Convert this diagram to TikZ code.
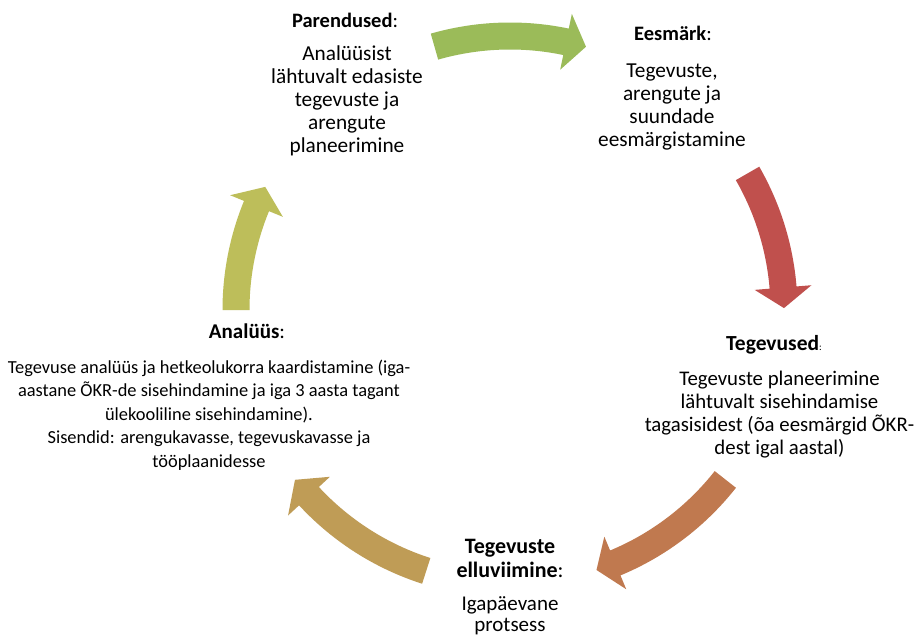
\documentclass[tikz,border=0pt]{standalone}
\usepackage{fontspec}
\setmainfont{Carlito}
\definecolor{cA}{RGB}{155,187,89}
\definecolor{cB}{RGB}{192,80,77}
\definecolor{cC}{RGB}{192,121,79}
\definecolor{cD}{RGB}{191,156,86}
\definecolor{cE}{RGB}{189,190,90}
\newcommand\cycarrow[4]{%
  \fill[#4] ({#1}:287.5) arc[start angle={#1}, end angle={#2}, radius=287.5]
    -- ({#2}:302.5) -- ({#3}:274) -- ({#2}:245.5) -- ({#2}:260.5)
    arc[start angle={#2}, end angle={#1}, radius=260.5] -- cycle;}
\begin{document}
\begin{tikzpicture}[x=1pt,y=-1pt,
  head/.style={font=\fontsize{20.5}{23}\selectfont, align=center, inner sep=0pt, anchor=north},
  body/.style={font=\fontsize{21.3}{23}\selectfont, align=center, inner sep=0pt, anchor=north}]
\useasboundingbox[fill=white] (0,0) rectangle (915,639);
% arrows
\begin{scope}[shift={(510,310)}, yscale=-1]
  \cycarrow{106}{78.2}{73.9}{cA}
  \cycarrow{29.9}{4.7}{0.4}{cB}
  \cycarrow{-38.2}{-67.4}{-71.6}{cC}
  \cycarrow{-107.8}{-137.2}{-141.7}{cD}
  \cycarrow{180}{157.7}{153.3}{cE}
\end{scope}
% texts (north = baseline - strut height)
\node[head] (parh) at (345,{27-16.1}) {\strut\textbf{Parendused}:};
\node[body] (parb) at (347,{60-16.1}) {\strut Analüüsist\\lähtuvalt edasiste\\tegevuste ja\\arengute\\planeerimine};
\node[head] (eesh) at (673,{40-16.1}) {\strut\textbf{Eesmärk}:};
\node[body] (eesb) at (672,{77-16.1}) {\strut Tegevuste,\\arengute ja\\suundade\\eesmärgistamine};
\node[head, font=\fontsize{21.5}{23}\selectfont] (tegh) at (774,{350-16.1}) {\strut\textbf{Tegevused}{\fontsize{10}{10}\selectfont:}};
\node[body, font=\fontsize{20.8}{23}\selectfont] (tegb) at (779.5,{385-16.1}) {\strut Tegevuste planeerimine\\lähtuvalt sisehindamise\\tagasisidest (õa eesmärgid ÕKR-\\dest igal aastal)};
\node[head, font=\fontsize{22}{24}\selectfont] (ellh) at (510,{553-16.8}) {\strut\textbf{Tegevuste}\\\textbf{elluviimine}:};
\node[body, font=\fontsize{21}{21}\selectfont] (ellb) at (510,{610-14.7}) {\strut Igapäevane\\protsess};
\node[head, font=\fontsize{21}{23}\selectfont] (anah) at (247,{338-16.1}) {\strut\textbf{Analüüs}:};
\node[body, font=\fontsize{18.4}{23.5}\selectfont] (anab) at (209,{373-16.45}) {\strut Tegevuse analüüs ja hetkeolukorra kaardistamine (iga-\\aastane ÕKR-de sisehindamine ja iga 3 aasta tagant\\ülekooliline sisehindamine).\\Sisendid: arengukavasse, tegevuskavasse ja\\tööplaanidesse};
\end{tikzpicture}
\end{document}
